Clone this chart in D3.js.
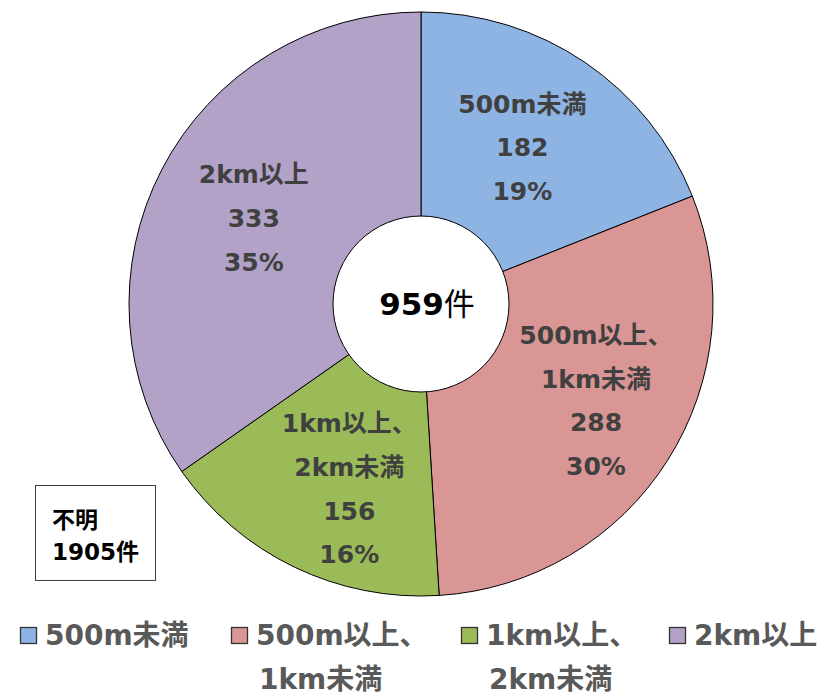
<!DOCTYPE html>
<html><head><meta charset="utf-8">
<script src="https://cdn.jsdelivr.net/npm/d3@7"></script>
<style>body{margin:0;background:#fff}svg{display:block}</style>
</head><body>
<svg id="c" width="824" height="696"></svg>
<script>
const categories = ["500m未満", "500m以上、1km未満", "1km以上、2km未満", "2km以上"];
const labelLines = [["500m未満"], ["500m以上、", "1km未満"], ["1km以上、", "2km未満"], ["2km以上"]];
const legendLines = [["500m未満"], ["500m以上、", "1km未満"], ["1km以上、", "2km未満"], ["2km以上"]];
const values = [182, 288, 156, 333];
const colors = ["#8EB4E3", "#D99694", "#9BBB59", "#B3A2C7"];
const totalLabel = "959";
const unknownLines = ["不明", "1905件"];

// layout nudges for data labels (pixels), like Excel "best fit"
const labelNudge = [[-7, 3], [12, -7], [12, 11], [4, 3]];

const svg = d3.select("#c");
const font = "'DejaVu Sans','Noto Sans CJK JP',sans-serif";
const cx = 421, cy = 304, R = 292, r0 = 88;
const total = d3.sum(values);

const pie = d3.pie().sort(null).value(d => d)(values);
const arc = d3.arc().innerRadius(0).outerRadius(R);
const g = svg.append("g").attr("transform", `translate(${cx},${cy})`);
g.selectAll("path.s").data(pie).join("path").attr("class","s")
  .attr("d", arc).attr("fill", (d,i) => colors[i])
  .attr("stroke", "#000").attr("stroke-width", 1);

g.append("circle").attr("r", r0).attr("fill", "#fff").attr("stroke", "#000").attr("stroke-width", 1);

const ct = g.append("text").attr("text-anchor","middle").attr("x", 6).attr("y", 11)
  .attr("font-family", font).attr("font-size", 31).attr("fill", "#000");
ct.append("tspan").attr("font-weight","bold").text(totalLabel);
ct.append("tspan").text("件");

const labelArc = d3.arc().innerRadius(193).outerRadius(193);
const lh = 43.7;
pie.forEach((d, i) => {
  let [x, y] = labelArc.centroid(d);
  x += labelNudge[i][0]; y += labelNudge[i][1];
  const lines = labelLines[i].concat([String(values[i]), Math.round(values[i] / total * 100) + "%"]);
  const t = g.append("text").attr("text-anchor", "middle")
    .attr("font-family", font).attr("font-size", 25).attr("font-weight", "bold").attr("fill", "#404040");
  const y0 = y - (lines.length - 1) * lh / 2 + 9;
  lines.forEach((s, k) => {
    t.append("tspan").attr("x", x).attr("y", y0 + k * lh).text(s);
  });
});

// unknown box
svg.append("rect").attr("x", 35.5).attr("y", 485.5).attr("width", 120).attr("height", 95)
  .attr("fill", "#fff").attr("stroke", "#404040").attr("stroke-width", 1);
unknownLines.forEach((s, k) => {
  svg.append("text").attr("x", 52).attr("y", 528 + k * 32)
    .attr("font-family", font).attr("font-size", 23).attr("font-weight", "bold").attr("fill", "#000").text(s);
});

// legend
const legX = [20, 231, 461, 669];
legendLines.forEach((lines, i) => {
  svg.append("rect").attr("x", legX[i] + 0.5).attr("y", 627.5).attr("width", 16).attr("height", 16)
    .attr("fill", colors[i]).attr("stroke", "#333").attr("stroke-width", 1.3);
  lines.forEach((s, k) => {
    svg.append("text").attr("x", legX[i] + 25 + (k > 0 ? 3 : 0)).attr("y", 645 + k * 44)
      .attr("font-family", font).attr("font-size", 28).attr("font-weight", "bold").attr("fill", "#595959").text(s);
  });
});
</script>
</body></html>
